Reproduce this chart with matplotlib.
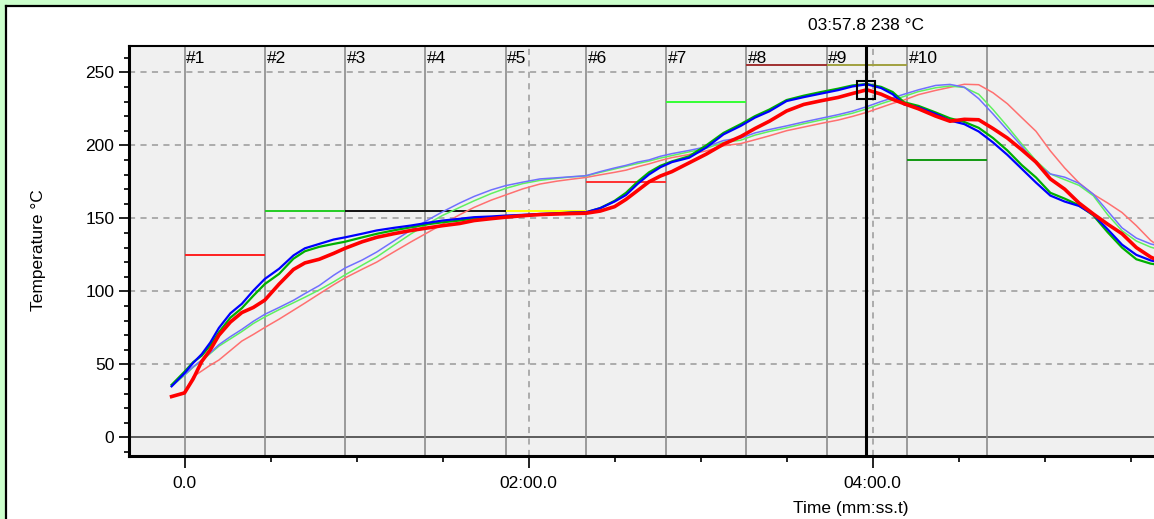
import numpy as np
import matplotlib
matplotlib.use("Agg")
import matplotlib.pyplot as plt
from matplotlib.patches import Rectangle
from matplotlib.lines import Line2D
from matplotlib.ticker import MultipleLocator, FuncFormatter

# time axis (seconds) shared by all probe traces
t_s = [-4.5, 0, 3, 6, 9, 12, 16, 20, 24, 28, 33, 38, 42, 47, 52, 56, 62, 67, 73, 79,
       85, 90, 96, 101, 107, 112, 118, 124, 130, 135, 140, 145, 150, 154, 158, 162, 166,
       170, 176, 182, 188, 194, 199, 204, 210, 216, 222, 228, 233, 238, 243, 247, 251,
       256, 262, 267, 272, 277, 282, 287, 292, 297, 302, 307, 312, 317, 322, 327, 332,
       337, 342]

red = [28, 30.5, 40, 52, 60, 70, 79, 85.5, 89, 94, 105, 115, 119.5, 122, 126, 129.5, 134,
       137, 139.5, 141.7, 143.5, 145, 146.5, 148.5, 149.8, 150.8, 151.8, 152.6, 153, 153.3,
       153.5, 155, 158, 163, 169, 175, 179, 182, 188, 194, 200.8, 206, 211.5, 216.5, 223.5,
       228, 230.5, 232.8, 235.5, 238, 235, 231.5, 228.5, 225, 220, 216.5, 217.8, 217.5,
       211.5, 205, 197, 188.5, 177, 170, 160.5, 153, 146, 139.5, 130, 123.5, 119]
blue = [35, 44, 51, 57, 65, 75, 85, 91.5, 100.5, 108.5, 115.5, 124.6, 129.5, 132.5, 135.5,
        137, 139.5, 141.7, 143.5, 145.1, 147, 148.5, 149.7, 150.8, 151.3, 151.9, 152.4, 153,
        153.5, 154, 154.2, 157, 161.5, 166, 173.5, 180, 185, 188.5, 191.5, 198.5, 207.5,
        213.3, 219, 223.3, 230.3, 233, 235.4, 237.8, 240.3, 241.8, 239.2, 235, 228, 226,
        221.5, 217, 214.5, 209.5, 202, 193.5, 184, 174.5, 165.6, 161.5, 158.5, 152.5, 142.5,
        132, 125, 121.2, 119]
green = [36, 45, 51.5, 56, 63, 72, 82, 88.5, 97, 105, 112, 122.4, 127.5, 130.5, 132.5, 134,
         137, 139.4, 141.8, 143.9, 146, 147.3, 148.5, 150, 150.7, 151.5, 152, 152.8, 153.3,
         153.8, 154, 157, 162, 167.5, 175, 181.5, 186, 189, 192.5, 200, 208.5, 214.5, 220,
         224.5, 231, 234, 236.5, 238.8, 241, 242, 240, 236.5, 229.5, 227, 222.5, 218.5, 216,
         212, 205, 196.5, 186.5, 178, 167.5, 163.5, 159, 152, 140.5, 130, 122, 119, 117.5]
light_blue = [36, 43, 48.4, 53, 58, 63.5, 69, 74, 79.5, 84.3, 89, 93.9, 98.5, 104, 111, 116,
              121.5, 126.9, 134.5, 142, 149, 154.5, 160.5, 165, 169.5, 172.4, 174.8, 177,
              177.8, 178.5, 179.2, 182, 184.5, 186.3, 188.5, 190, 192.5, 194.3, 196.5, 199,
              203.3, 205, 208.5, 210.8, 213.3, 216, 218.5, 221, 223.4, 226.5, 230, 232.5, 235,
              238, 241, 241.7, 239.8, 232, 221.5, 210.5, 199.5, 187.5, 180.4, 178.2, 174,
              166.5, 155, 143.5, 136.5, 132.5, 130]
light_green = [35, 42.5, 48, 52.5, 57.5, 62.5, 67.5, 72.5, 78, 82.5, 87.5, 92.2, 96, 101,
               106.5, 111.3, 118, 123.5, 131.5, 139.4, 146.5, 152, 157.5, 162, 167, 170.5,
               173.8, 176, 177.4, 178.4, 179, 181.5, 183.8, 185.7, 187.5, 189.2, 191.3, 193,
               195.5, 198, 202, 203.5, 207, 209.5, 212, 214.8, 217.3, 219.8, 222, 225, 228.5,
               231, 233.5, 236.8, 239.4, 240.6, 239.6, 235, 224.5, 213, 201, 189.5, 180.4,
               176.5, 172.6, 165.5, 152.5, 141.5, 134.5, 130.3, 127.5]
light_red = [28, 31, 41.6, 45.5, 49.5, 53, 59.5, 66, 70.5, 75.3, 81, 87.1, 92, 98.3, 104.5,
             109.2, 115.2, 120, 127, 133.9, 140.5, 146, 152.5, 157.5, 162.5, 166, 170.2, 173.5,
             175.5, 176.8, 178, 179.8, 181.5, 183, 185.3, 187.3, 189.6, 191.6, 193.7, 196.2,
             199.7, 201.2, 203.8, 206.5, 210, 212.5, 215, 217.3, 219.8, 222.6, 226, 228.7, 231,
             234.7, 237.6, 239.7, 241.8, 241.5, 236, 228.5, 219, 209.6, 196.2, 184.5, 174.3,
             166.5, 160.5, 154, 145, 134.9, 128]

# oven zones
zone_edges = [0, 28, 56, 84, 112, 140, 168, 196, 224, 252, 280]
zone_names = ["#1", "#2", "#3", "#4", "#5", "#6", "#7", "#8", "#9", "#10"]
zone_setpoints = [125, 155, 155, 155, 155, 175, 230, 255, 255, 190]
zone_colors = ["#ff2020", "#22cc22", "#111111", "#111111", "#ffff00",
               "#ff3030", "#33ff33", "#a03030", "#a0a040", "#119911"]

cursor_t = 237.8
cursor_val = 238

W, H = 1154, 519
plt.rcParams["font.family"] = ["Liberation Sans", "DejaVu Sans"]
fs = 12.5

fig = plt.figure(figsize=(W / 100, H / 100), dpi=100)
fig.patch.set_facecolor("white")

# frame decoration
fig.add_artist(Rectangle((0, 1 - 5 / H), 1, 5 / H, transform=fig.transFigure,
                         color="#ccffcc", lw=0))
fig.add_artist(Rectangle((0, 0), 5 / W, 1, transform=fig.transFigure,
                         color="#ccffcc", lw=0))
fig.add_artist(Line2D([6 / W, 1], [1 - 6 / H, 1 - 6 / H], transform=fig.transFigure,
                      color="black", lw=1.6))
fig.add_artist(Line2D([6 / W, 6 / W], [0, 1 - 6 / H], transform=fig.transFigure,
                      color="black", lw=1.6))

left, right, top, bottom = 129, 1160, 46, 456.3
ax = fig.add_axes([left / W, (H - bottom) / H, (right - left) / W, (bottom - top) / H])
ax.set_facecolor("#f0f0f0")

px_per_s = 2.867
x0 = 184.5
ax.set_xlim((left - x0) / px_per_s, (right - x0) / px_per_s)
ax.set_ylim(-12.9, 268)

# grid
for v in [50, 100, 150, 200, 250]:
    ax.axhline(v, color="#999999", lw=1.1, ls=(0, (4, 3.5)), zorder=1)
for v in [120, 240]:
    ax.axvline(v, color="#999999", lw=1.1, ls=(0, (4, 3.5)), zorder=1)
ax.axhline(0, color="#444444", lw=1.2, zorder=1)

# zone boundaries and labels
for e in zone_edges:
    ax.axvline(e, color="#8c8c8c", lw=1.2, zorder=2)
for i, name in enumerate(zone_names):
    ax.annotate(name, xy=(zone_edges[i], 1), xycoords=("data", "axes fraction"),
                xytext=(1.2, -9), textcoords="offset points", ha="left", va="center",
                fontsize=fs, zorder=6)
    ax.hlines(zone_setpoints[i], zone_edges[i], zone_edges[i + 1],
              color=zone_colors[i], lw=1.4, zorder=3)

# probe traces
ax.plot(t_s, light_red, color="#ff7070", lw=1.1, zorder=4)
ax.plot(t_s, light_green, color="#60f060", lw=1.1, zorder=4)
ax.plot(t_s, light_blue, color="#7070ff", lw=1.1, zorder=4)
ax.plot(t_s, green, color="#00b000", lw=1.6, zorder=5)
ax.plot(t_s, blue, color="#0000ff", lw=1.6, zorder=5)
ax.plot(t_s, red, color="#ff0000", lw=2.6, zorder=5)

# cursor
ax.axvline(cursor_t, color="black", lw=2.2, zorder=7)
ax.plot([cursor_t], [cursor_val], marker="s", ms=13, mfc="none", mec="black",
        mew=1.5, zorder=8)
m, s = divmod(cursor_t, 60)
ax.annotate(f"{int(m):02d}:{s:04.1f} {cursor_val} °C", xy=(cursor_t, 1),
            xycoords=("data", "axes fraction"), xytext=(0, 15),
            textcoords="offset points", ha="center", va="center", fontsize=fs,
            annotation_clip=False)


def fmt_time(v, pos):
    if abs(v) < 1e-6:
        return "0.0"
    mm, ss = divmod(v, 60)
    return f"{int(mm):02d}:{ss:04.1f}"


ax.xaxis.set_major_locator(MultipleLocator(120))
ax.xaxis.set_minor_locator(MultipleLocator(30))
ax.xaxis.set_major_formatter(FuncFormatter(fmt_time))
ax.yaxis.set_major_locator(MultipleLocator(50))
ax.yaxis.set_minor_locator(MultipleLocator(10))

ax.tick_params(axis="both", which="both", direction="out", width=1.4, color="#222222",
               labelsize=fs)
ax.tick_params(axis="y", which="major", length=7.5, pad=3)
ax.tick_params(axis="y", which="minor", length=3.8)
ax.tick_params(axis="x", which="major", length=8.5, pad=6)
ax.tick_params(axis="x", which="minor", length=4.3)

ax.spines["left"].set_linewidth(2.2)
ax.spines["bottom"].set_linewidth(2.2)
ax.spines["top"].set_linewidth(1.5)
ax.spines["right"].set_visible(False)

fig.text(38 / W, 1 - 250 / H, "Temperature °C", rotation=90, ha="center", va="center",
         fontsize=fs)
fig.text(851 / W, 1 - 508 / H, "Time (mm:ss.t)", ha="center", va="center", fontsize=fs)

fig.savefig("out.png", dpi=100)
